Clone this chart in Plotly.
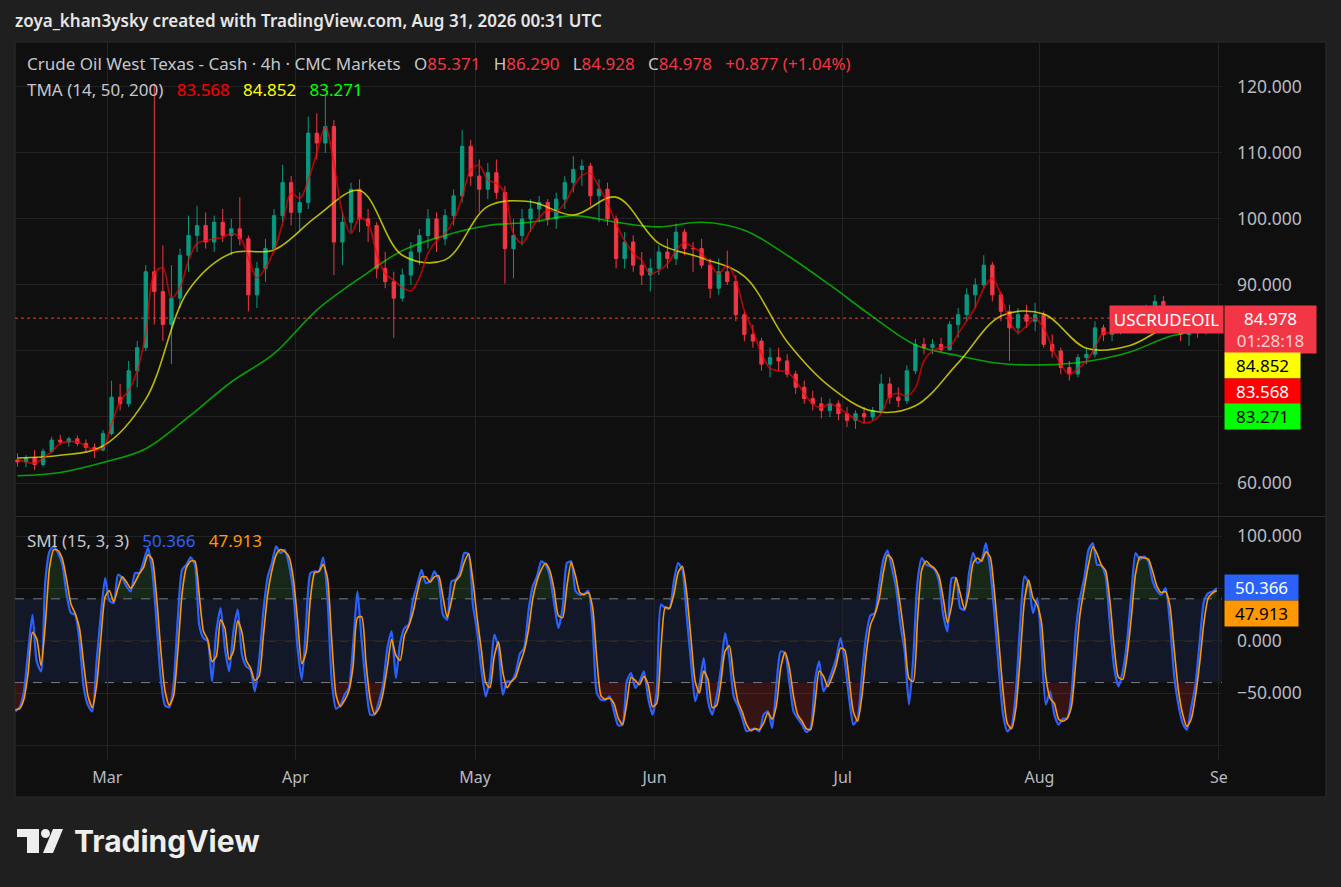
import pandas as pd
import plotly.graph_objects as go

# ---- data (one candle per trading day) ----
days = pd.bdate_range("2026-02-13", "2026-08-31")
days = days[days != pd.Timestamp("2026-04-03")]  # Good Friday, no bars

price_open = [
    63.5, 63.2, 63.8, 62.8, 64.8, 66.5, 66.2, 66.7, 66.0, 65.4,
    65.0, 67.5, 73.0, 72.0, 77.0, 80.5, 92.0, 89.0, 84.0, 88.0,
    94.5, 97.5, 99.0, 96.5, 99.5, 97.5, 98.5, 97.0, 88.5, 92.5,
    95.5, 100.5, 105.5, 101.0, 102.5, 113.0, 111.5, 114.0, 96.5, 99.5,
    104.5, 100.0, 99.0, 92.5, 90.5, 88.0, 91.5, 95.0, 97.5, 100.0,
    97.0, 100.5, 103.5, 111.0, 106.5, 104.5, 107.0, 104.0, 95.5, 97.5,
    100.0, 101.5, 102.5, 100.0, 103.0, 105.5, 107.5, 108.0, 103.5, 104.5,
    100.0, 94.0, 96.5, 93.0, 91.5, 92.5, 95.0, 94.0, 98.0, 95.5,
    95.5, 93.0, 89.5, 92.0, 90.5, 85.5, 82.5, 81.5, 78.0, 79.0,
    78.5, 76.5, 74.5, 72.8, 72.0, 71.0, 72.0, 70.5, 69.5, 70.5,
    70.0, 71.0, 75.0, 73.0, 72.5, 77.0, 81.0, 80.5, 81.0, 80.2,
    84.0, 85.5, 88.5, 90.0, 93.0, 88.5, 86.0, 83.5, 85.5, 84.5,
    85.5, 81.0, 80.0, 77.5, 76.5, 79.0, 79.5, 83.5, 82.5, 83.5,
    84.0, 84.5, 85.5, 86.5, 87.5, 86.0, 84.0, 82.5, 83.5, 83.0,
    85.0,
]
price_high = [
    64.5, 64.2, 65.0, 65.2, 67.0, 67.3, 67.0, 67.2, 66.6, 66.0,
    68.0, 75.5, 75.0, 78.5, 81.5, 93.0, 120.5, 96.0, 93.0, 95.5,
    100.5, 102.0, 101.0, 100.5, 101.5, 100.0, 103.3, 97.5, 93.5, 97.0,
    101.5, 108.2, 106.5, 104.0, 115.5, 116.0, 118.8, 115.0, 101.0, 105.5,
    106.0, 101.5, 99.5, 95.0, 92.0, 92.5, 96.5, 98.5, 101.5, 101.0,
    101.5, 104.5, 113.5, 112.0, 109.0, 108.5, 109.0, 105.0, 100.0, 101.5,
    103.0, 103.5, 103.0, 104.0, 106.5, 109.5, 109.0, 108.5, 106.0, 105.5,
    100.5, 98.0, 97.5, 95.0, 94.0, 96.0, 97.0, 99.3, 98.5, 96.5,
    97.0, 94.0, 94.0, 95.2, 91.5, 86.0, 84.0, 82.0, 80.5, 80.5,
    79.5, 77.0, 75.5, 74.0, 73.0, 72.8, 72.5, 71.5, 71.0, 71.5,
    71.5, 76.5, 76.0, 74.5, 77.8, 81.8, 82.0, 81.8, 82.0, 84.5,
    86.5, 89.5, 91.0, 94.5, 93.5, 89.0, 87.0, 86.5, 87.0, 87.3,
    86.0, 82.5, 80.5, 78.5, 79.5, 80.5, 84.5, 84.0, 84.0, 85.0,
    85.5, 86.0, 87.0, 88.5, 88.3, 86.5, 85.0, 84.0, 84.5, 85.5,
    86.3,
]
price_low = [
    62.5, 62.4, 62.0, 62.5, 64.5, 65.8, 65.5, 65.6, 64.8, 63.8,
    64.8, 67.2, 71.0, 71.5, 74.5, 80.0, 84.0, 81.5, 78.0, 86.5,
    92.0, 95.0, 95.5, 95.0, 96.5, 94.5, 96.0, 86.0, 86.5, 90.5,
    95.0, 99.5, 99.0, 98.3, 101.5, 109.0, 110.0, 91.5, 93.0, 98.0,
    98.0, 96.5, 91.0, 89.5, 82.0, 87.5, 90.0, 93.0, 95.5, 95.0,
    96.0, 99.0, 102.5, 105.0, 101.0, 103.0, 103.0, 90.2, 91.0, 96.0,
    98.0, 99.5, 99.0, 98.5, 101.5, 104.0, 105.0, 102.0, 99.5, 99.0,
    92.5, 92.5, 92.0, 90.0, 89.0, 91.5, 92.5, 93.0, 94.5, 92.0,
    92.5, 88.0, 88.5, 90.0, 84.5, 81.5, 80.5, 77.0, 76.0, 77.0,
    76.0, 73.5, 72.0, 71.0, 69.8, 70.0, 69.5, 68.5, 68.2, 69.0,
    69.5, 70.5, 72.0, 71.5, 72.0, 76.5, 79.5, 79.5, 79.8, 80.0,
    82.0, 84.5, 86.5, 89.5, 87.5, 84.5, 78.5, 82.5, 83.5, 83.0,
    80.5, 79.0, 76.5, 75.5, 76.0, 78.0, 79.0, 81.5, 81.5, 82.5,
    83.0, 83.5, 84.5, 85.5, 85.0, 83.0, 81.5, 80.8, 82.0, 82.5,
    84.2,
]
price_close = [
    63.2, 63.8, 62.8, 64.8, 66.5, 66.2, 66.7, 66.0, 65.4, 65.0,
    67.5, 73.0, 72.0, 77.0, 80.5, 92.0, 89.0, 84.0, 88.0, 94.5,
    97.5, 99.0, 96.5, 99.5, 97.5, 98.5, 97.0, 88.5, 92.5, 95.5,
    100.5, 105.5, 101.0, 102.5, 113.0, 111.5, 114.0, 96.5, 99.5, 104.5,
    100.0, 99.0, 92.5, 90.5, 88.0, 91.5, 95.0, 97.5, 100.0, 97.0,
    100.5, 103.5, 111.0, 106.5, 104.5, 107.0, 104.0, 95.5, 97.5, 100.0,
    101.5, 102.5, 100.0, 103.0, 105.5, 107.5, 108.0, 103.5, 104.5, 100.0,
    94.0, 96.5, 93.0, 91.5, 92.5, 95.0, 94.0, 98.0, 95.5, 95.5,
    93.0, 89.5, 92.0, 90.5, 85.5, 82.5, 81.5, 78.0, 79.0, 78.5,
    76.5, 74.5, 72.8, 72.0, 71.0, 72.0, 70.5, 69.5, 70.5, 70.0,
    71.0, 75.0, 73.0, 72.5, 77.0, 81.0, 80.5, 81.0, 80.2, 84.0,
    85.5, 88.5, 90.0, 93.0, 88.5, 86.0, 83.5, 85.5, 84.5, 85.5,
    81.0, 80.0, 77.5, 76.5, 79.0, 79.5, 83.5, 82.5, 83.5, 84.0,
    84.5, 85.5, 86.5, 87.5, 86.0, 84.0, 82.5, 83.5, 83.0, 85.0,
    84.978,
]

# TMA (14, 50, 200) lines
tma_fast = [
    63.6, 63.2, 63.0, 63.8, 64.8, 66.0, 66.3, 66.2, 65.6, 65.0,
    65.3, 68.9, 72.4, 74.0, 77.0, 82.6, 91.7, 92.6, 88.1, 89.6,
    93.7, 96.3, 96.7, 97.0, 97.2, 97.8, 97.2, 94.2, 91.1, 92.6,
    95.2, 99.3, 103.9, 103.1, 105.9, 110.0, 113.9, 108.4, 100.9, 97.8,
    100.2, 99.3, 94.8, 91.7, 90.7, 89.6, 89.1, 91.1, 94.8, 96.7,
    97.8, 99.8, 103.3, 107.4, 108.1, 105.9, 105.4, 103.9, 97.8, 96.3,
    98.3, 100.2, 101.3, 101.1, 102.4, 104.8, 106.6, 106.9, 104.8, 102.4,
    99.3, 96.7, 94.8, 93.7, 91.7, 92.2, 93.2, 95.2, 96.4, 95.7,
    94.8, 93.2, 91.7, 93.0, 90.7, 86.1, 83.1, 79.6, 77.4, 77.0,
    76.8, 75.5, 73.5, 72.0, 71.4, 72.0, 71.4, 70.5, 69.7, 69.1,
    69.4, 70.5, 73.2, 73.6, 73.2, 74.4, 78.5, 80.0, 80.5, 80.7,
    82.6, 84.6, 86.6, 89.5, 91.0, 88.4, 84.6, 82.8, 83.8, 84.9,
    83.5, 80.5, 78.0, 76.5, 77.3, 78.5, 80.5, 82.8, 82.6, 83.2,
    83.8, 84.5, 85.5, 86.5, 86.8, 85.8, 84.2, 83.0, 82.8, 83.2,
    83.568,
]
# mid and slow lines read every 5th trading day
tma_mid = [
    63.8, 64.2, 65.6, 72.7, 89.2, 94.8, 95.3, 100.4, 104.3, 94.5,
    93.8, 101.9, 102.6, 100.6, 103.3, 96.3, 94.1, 91.3, 81.4, 74.6,
    70.9, 71.7, 78.2, 85.3, 85.6, 80.4, 80.8, 84.0, 84.852,
]
tma_slow = [
    61.1, 61.6, 63.1, 65.2, 70.0, 75.3, 79.6, 86.2, 91.0, 95.2,
    97.5, 99.0, 99.5, 100.5, 99.5, 98.8, 99.5, 98.3, 94.5, 90.0,
    85.2, 80.9, 79.3, 78.1, 77.9, 78.4, 79.8, 82.3, 83.271,
]

# SMI (15, 3, 3), two readings per trading day
smi_line = [
    -67.5, -63.7, -48.4, -10.2, 24.8, -19.7, -29.3, 56.7, 85.4, 90.1,
    83.8, 72.6, 43.9, 26.4, 24.8, -0.6, -45.2, -61.8, -67.5, -19.7,
    24.8, 59.9, 38.2, 36.0, 63.1, 59.9, 51.9, 47.1, 64.6, 64.6,
    75.8, 88.5, 67.8, 18.5, -35.7, -61.8, -63.7, -42.0, 21.7, 67.8,
    72.6, 79.6, 72.6, 15.3, 2.5, -0.6, -38.9, 8.9, 31.2, -7.0,
    -29.3, 8.9, 29.6, -13.4, -24.5, -27.7, -48.4, -19.7, 28.0, 60.5,
    74.2, 90.1, 83.8, 86.9, 72.6, 47.1, -7.0, -37.3, 15.3, 64.6,
    66.2, 66.2, 79.6, 40.8, -38.9, -65.0, -61.8, -51.6, -45.2, -3.8,
    47.1, -0.6, -42.0, -70.7, -70.7, -58.6, -42.0, -7.0, 8.9, -35.7,
    -2.2, 12.1, 15.3, 39.2, 53.5, 67.8, 55.1, 56.7, 66.2, 58.3,
    24.8, 20.1, 56.7, 58.3, 66.2, 83.8, 82.8, 34.4, 8.9, -27.7,
    -53.2, -35.7, 5.7, -7.0, -51.6, -38.9, -38.9, -30.9, -12.7, -7.0,
    28.0, 51.9, 61.5, 75.8, 72.6, 61.5, 36.0, 12.1, 31.2, 74.2,
    75.8, 47.8, 43.9, 44.6, 47.8, 15.3, -50.0, -56.4, -56.4, -53.2,
    -67.5, -80.9, -80.3, -38.9, -30.9, -45.2, -38.9, -29.3, -54.8, -70.7,
    -48.4, 34.4, 31.2, 30.6, 56.7, 74.2, 67.8, 24.8, -19.7, -58.0,
    -42.0, -16.6, -58.0, -70.7, -53.2, -27.7, 7.3, -16.6, -53.2, -62.7,
    -73.9, -86.6, -85.0, -84.1, -86.6, -70.7, -67.5, -83.4, -42.0, -10.2,
    -11.8, -38.9, -67.5, -74.5, -80.3, -87.3, -83.4, -38.9, -19.7, -48.4,
    -40.4, -29.3, -16.6, 2.5, -19.7, -54.8, -80.3, -73.9, -32.5, 5.7,
    24.2, 26.1, 51.9, 77.4, 86.0, 69.4, 50.3, 15.3, -10.2, -61.1,
    -16.6, 56.7, 79.0, 72.6, 71.0, 67.8, 56.7, 24.8, 8.9, 59.9,
    59.9, 31.2, 29.6, 63.1, 83.8, 74.2, 77.4, 93.3, 67.8, 24.8,
    -26.1, -70.7, -86.6, -81.8, -48.4, 15.3, 61.5, 55.1, 26.4, 40.8,
    -7.0, -61.1, -48.4, -70.7, -80.3, -74.5, -74.5, -51.6, 8.9, 40.8,
    59.9, 86.9, 93.3, 72.6, 72.0, 61.5, 15.3, -26.1, -43.6, -29.3,
    -0.6, 43.9, 83.8, 77.4, 80.6, 75.8, 56.7, 47.8, 43.9, 50.3,
    18.5, -32.5, -61.1, -78.7, -85.0, -64.3, -42.0, -0.6, 37.6, 45.5,
    47.0, 50.366,
]
smi_signal = [
    -66, -65, -56, -30, 8, 2, -24, 15, 70, 87,
    86, 78, 58, 35, 26, 12, -23, -53, -64, -43,
    2, 42, 48, 37, 50, 61, 56, 50, 56, 64,
    70, 82, 78, 43, -8, -48, -62, -53, -10, 45,
    70, 76, 76, 44, 9, 1, -20, -15, 20, 12,
    -18, -10, 19, 8, -19, -26, -38, -34, 4, 44,
    67, 82, 87, 85, 80, 60, 20, -22, -11, 40,
    65, 66, 73, 60, 0, -52, -63, -57, -48, -24,
    22, 23, -21, -56, -70, -65, -50, -25, 1, -14,
    -19, 5, 14, 27, 46, 61, 61, 56, 61, 62,
    42, 22, 38, 57, 62, 75, 83, 58, 22, -9,
    -40, -45, -15, -1, -30, -45, -39, -35, -22, -10,
    10, 40, 57, 68, 74, 67, 49, 24, 22, 52,
    75, 62, 46, 44, 46, 32, -18, -53, -56, -55,
    -60, -74, -80, -60, -35, -38, -42, -34, -42, -63,
    -60, -7, 32, 31, 44, 65, 71, 46, 3, -39,
    -50, -29, -37, -64, -62, -40, -10, -5, -35, -58,
    -68, -80, -86, -84, -85, -79, -69, -75, -62, -26,
    -11, -25, -53, -71, -77, -84, -85, -61, -29, -34,
    -44, -35, -23, -7, -9, -37, -68, -77, -53, -13,
    15, 25, 39, 65, 82, 78, 60, 33, 2, -36,
    -39, 20, 68, 76, 72, 69, 62, 41, 17, 34,
    60, 45, 30, 46, 74, 79, 76, 85, 80, 46,
    0, -48, -79, -84, -65, -17, 38, 58, 41, 34,
    17, -34, -55, -60, -75, -77, -74, -63, -21, 25,
    50, 73, 90, 83, 72, 67, 38, -6, -35, -37,
    -15, 22, 64, 80, 79, 78, 66, 52, 46, 47,
    34, -7, -47, -70, -82, -75, -53, -21, 18, 41,
    45.5, 47.913,
]

month_ticks = ["2026-03-02", "2026-04-01", "2026-05-01", "2026-06-01",
               "2026-07-01", "2026-08-03", "2026-09-01"]
month_labels = ["Mar", "Apr", "May", "Jun", "Jul", "Aug", "Se"]

# ---- colours / helpers ----
UP, DOWN = "#089981", "#f23645"
GRID = "#232323"
TXT = "#b8bac0"
FONT = "Noto Sans"

PL, PR, PT, PB = 15, 1222, 42, 760  # plot area in pixels


def fx(x):
    return (x - PL) / (PR - PL)


def fy(y):
    return (PB - y) / (PB - PT)


candle_x = [d + pd.Timedelta(hours=12) for d in days]
smi_x = []
for d in days:
    smi_x += [d + pd.Timedelta(hours=6), d + pd.Timedelta(hours=18)]
mid_x = candle_x[::5]

fig = go.Figure()

fig.add_trace(go.Candlestick(
    x=candle_x, open=price_open, high=price_high, low=price_low, close=price_close,
    increasing=dict(line=dict(color=UP, width=1), fillcolor=UP),
    decreasing=dict(line=dict(color=DOWN, width=1), fillcolor=DOWN),
    whiskerwidth=0, yaxis="y", hoverinfo="skip", showlegend=False,
))
fig.add_trace(go.Scatter(x=mid_x, y=tma_slow, mode="lines", yaxis="y",
                         line=dict(color="rgba(0,255,0,0.6)", width=1.6, shape="spline")))
fig.add_trace(go.Scatter(x=mid_x, y=tma_mid, mode="lines", yaxis="y",
                         line=dict(color="rgba(255,255,0,0.7)", width=1.6, shape="spline")))
fig.add_trace(go.Scatter(x=candle_x, y=tma_fast, mode="lines", yaxis="y",
                         line=dict(color="rgba(255,0,0,0.7)", width=1.6, shape="spline")))

# SMI: fills beyond the +/-40 band, then the two lines
over = [max(v, 40) for v in smi_line]
under = [min(v, -40) for v in smi_line]
fig.add_trace(go.Scatter(x=smi_x, y=[40] * len(smi_x), yaxis="y2", mode="lines",
                         line=dict(width=0), hoverinfo="skip"))
fig.add_trace(go.Scatter(x=smi_x, y=over, yaxis="y2", mode="lines", fill="tonexty",
                         fillcolor="rgba(56,142,60,0.2)", line=dict(width=0, shape="spline")))
fig.add_trace(go.Scatter(x=smi_x, y=[-40] * len(smi_x), yaxis="y2", mode="lines",
                         line=dict(width=0), hoverinfo="skip"))
fig.add_trace(go.Scatter(x=smi_x, y=under, yaxis="y2", mode="lines", fill="tonexty",
                         fillcolor="rgba(198,40,40,0.22)", line=dict(width=0, shape="spline")))
fig.add_trace(go.Scatter(x=smi_x, y=smi_line, yaxis="y2", mode="lines",
                         line=dict(color="#2962ff", width=2.2, shape="spline", smoothing=0.6)))
fig.add_trace(go.Scatter(x=smi_x, y=smi_signal, yaxis="y2", mode="lines",
                         line=dict(color="#ff9800", width=1.6, shape="spline", smoothing=0.6)))

shapes = [
    # chart panel
    dict(type="rect", xref="paper", yref="paper", x0=fx(15), x1=fx(1326), y0=fy(797), y1=fy(42),
         fillcolor="#0f0f0f", line=dict(color="#2c2c2c", width=1), layer="below"),
    # pane separator
    dict(type="line", xref="paper", yref="paper", x0=fx(15), x1=fx(1326), y0=fy(516.5), y1=fy(516.5),
         line=dict(color="#2c2c2c", width=1)),
    # SMI band
    dict(type="rect", xref="paper", yref="y2", x0=0, x1=1, y0=-40, y1=40,
         fillcolor="#131829", line=dict(width=0), layer="between"),
    # last price line
    dict(type="line", xref="paper", yref="y", x0=0, x1=1, y0=84.978, y1=84.978,
         line=dict(color=DOWN, width=1, dash="dot"), layer="between"),
]
for lvl in [40, 0, -40]:
    shapes.append(dict(type="line", xref="paper", yref="y2", x0=0, x1=1, y0=lvl, y1=lvl,
                       line=dict(color="#787b86", width=1, dash="dash"), layer="between"))

# TradingView logo glyph
t_path = "M {} {} L {} {} L {} {} L {} {} L {} {} L {} {} Z".format(
    fx(17), fy(829), fx(39), fy(829), fx(39), fy(853), fx(27), fy(853), fx(27), fy(837), fx(17), fy(837))
slash = "M {} {} L {} {} L {} {} L {} {} Z".format(
    fx(53), fy(829), fx(63), fy(829), fx(53), fy(853), fx(43), fy(853))
shapes += [
    dict(type="path", xref="paper", yref="paper", path=t_path, fillcolor="#eeeeee", line=dict(width=0)),
    dict(type="circle", xref="paper", yref="paper", x0=fx(41), x1=fx(50), y0=fy(838), y1=fy(829),
         fillcolor="#eeeeee", line=dict(width=0)),
    dict(type="path", xref="paper", yref="paper", path=slash, fillcolor="#eeeeee", line=dict(width=0)),
]


def red(s):
    return "<span style='color:%s'>%s</span>" % (DOWN, s)


sp = "&nbsp;&nbsp;&nbsp;"
row1 = ("Crude Oil West Texas - Cash · 4h · CMC Markets" + sp + "O" + red("85.371") + sp + "H" + red("86.290")
        + sp + "L" + red("84.928") + sp + "C" + red("84.978") + sp + red("+0.877 (+1.04%)"))
row2 = ("TMA (14, 50, 200)" + sp + "<span style='color:#ff0000'>83.568</span>" + sp
        + "<span style='color:#ffff00'>84.852</span>" + sp + "<span style='color:#00ff00'>83.271</span>")
row3 = ("SMI (15, 3, 3)" + sp + "<span style='color:#2962ff'>50.366</span>" + sp
        + "<span style='color:#ff9800'>47.913</span>")

annotations = [
    dict(text="zoya_khan3ysky created with TradingView.com, Aug 31, 2026 00:31 UTC",
         x=fx(13), y=fy(20), font=dict(size=17, color="#e6e6e6", weight=600)),
    dict(text=row1, x=fx(25), y=fy(64), font=dict(size=17, color="#c4c6cc")),
    dict(text=row2, x=fx(25), y=fy(89), font=dict(size=17, color="#c4c6cc")),
    dict(text=row3, x=fx(25), y=fy(540), font=dict(size=17, color="#c4c6cc")),
    dict(text="<b>TradingView</b>", x=fx(72), y=fy(841), font=dict(size=30, color="#eeeeee", family="Inter")),
]
for a in annotations:
    a.update(xref="paper", yref="paper", xanchor="left", yanchor="middle", showarrow=False)


def badge(text, yref, y, yshift, bg, fg, w=71, h=21, x=1224, xanchor="left"):
    return dict(text=text, xref="paper", yref=yref, x=fx(x), y=y, yshift=yshift,
                xanchor=xanchor, yanchor="middle", showarrow=False, bgcolor=bg, borderpad=2,
                width=w, height=h, align="center", font=dict(size=17, color=fg))


annotations += [
    badge("USCRUDEOIL", "y", 84.978, -1, DOWN, "#ffffff", w=109, h=23, x=1224, xanchor="right"),
    badge("84.978<br><span style='color:rgba(255,255,255,0.78)'>01:28:18</span>", "y", 84.978, -11,
          DOWN, "#ffffff", w=87, h=43),
    badge("84.852", "y", 84.852, -47, "#ffff00", "#000000"),
    badge("83.568", "y", 83.568, -64, "#ff0000", "#ffffff"),
    badge("83.271", "y", 83.271, -87, "#00ff00", "#000000"),
    badge("50.366", "y2", 50.366, 0, "#2962ff", "#ffffff", w=69),
    badge("47.913", "y2", 47.913, -23, "#ff9800", "#000000", w=69),
]

fig.update_layout(
    width=1341, height=887,
    margin=dict(l=PL, r=1341 - PR, t=PT, b=887 - PB),
    paper_bgcolor="#1f1f1f", plot_bgcolor="#0f0f0f",
    font=dict(family=FONT, size=16, color=TXT),
    showlegend=False, hovermode=False, boxgap=0.45,
    xaxis=dict(
        type="date", anchor="y2",
        range=["2026-02-13 05:00", "2026-09-01 08:30"],
        rangebreaks=[dict(bounds=["sat", "mon"]), dict(values=["2026-04-03"])],
        tickvals=month_ticks, ticktext=month_labels,
        showgrid=True, gridcolor=GRID, zeroline=False, showline=False, ticks="",
        ticklabelstandoff=6, rangeslider=dict(visible=False), tickfont=dict(size=16, color=TXT),
    ),
    yaxis=dict(
        domain=[0.3398, 1], range=[55.0, 126.8], side="right", anchor="x",
        tickvals=[60, 70, 80, 90, 100, 110, 120],
        ticktext=["60.000", "", "", "90.000", "100.000", "110.000", "120.000"],
        showgrid=True, gridcolor=GRID, zeroline=False, ticks="", ticklabelstandoff=14,
        tickfont=dict(size=17.5, color=TXT),
    ),
    yaxis2=dict(
        domain=[0, 0.3384], range=[-114.0, 118.15], side="right", anchor="x",
        tickvals=[-100, -50, 0, 50, 100],
        ticktext=["", "\u221250.000", "0.000", "", "100.000"],
        showgrid=True, gridcolor=GRID, zeroline=False, ticks="", ticklabelstandoff=14,
        tickfont=dict(size=17.5, color=TXT),
    ),
    shapes=shapes, annotations=annotations,
)

# the page's default body margin would push the figure 8px right/down
fig.write_html("out.html", config={"displayModeBar": False},
               post_script="document.body.style.margin='0';")
